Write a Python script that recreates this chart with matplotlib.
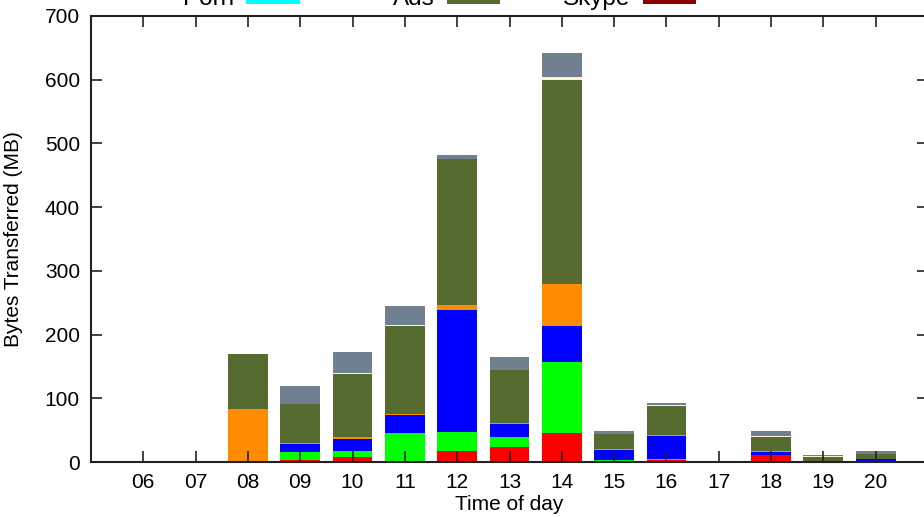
import numpy as np
import matplotlib.pyplot as plt
from matplotlib.patches import Patch

plt.rcParams['font.family'] = ['Liberation Sans', 'DejaVu Sans']

hours = ['06', '07', '08', '09', '10', '11', '12', '13', '14', '15', '16', '17', '18', '19', '20']

# traffic per hour (MB), one list per stacked layer, bottom to top
red    = [0, 0, 0,   3,    8,   0,    17,   23.5, 45.5, 0,    3,    0,   11,   0.3, 0]
green  = [0, 0, 0,   12.7, 9,   45.5, 30.5, 15.5, 111,  3,    1.7,  0,   0.5,  0.3, 1]
blue   = [0, 0, 0,   12.3, 19.6, 27.5, 191.5, 20, 57,   16.4, 36,   0,   4.5,  0.5, 3.2]
orange = [0, 0, 83,  2,    2,   2,    7,    2,    65.5, 0.5,  1.6,  0,   0.5,  0.5, 0.5]
olive  = [0, 0, 86,  60.5, 100, 139,  229,  83,   320,  23.6, 45.6, 0,   23.5, 5.5, 8]
cream  = [0, 0, 0,   0.5,  0.5, 1,    1,    1,    5,    0.5,  1.5,  0,   0.5,  2.5, 0.5]
gray   = [1.5, 1, 1, 28.5, 33.5, 30,  6,    20,   38,   4.7,  2.5,  1.6, 8.2,  1.5, 4.6]

layers = [red, green, blue, orange, olive, cream, gray]
colors = ['#ff0000', '#00ff00', '#0000ff', '#ff8c00', '#556b2f', '#fff0d8', '#708090']

key_labels = ['Porn', 'Ads', 'Skype']
key_colors = ['cyan', '#556b2f', '#8b0000']

fig = plt.figure(figsize=(9.24, 5.17), dpi=100)
ax = fig.add_axes([91 / 924, 55 / 517, 837 / 924, 446 / 517])

x = np.arange(len(hours))
bottom = np.zeros(len(hours))
for vals, c in zip(layers, colors):
    vals = np.array(vals, dtype=float)
    ax.bar(x, vals, width=0.76, bottom=bottom, color=c, edgecolor='none')
    bottom += vals

ax.set_xlim(-1, 15)
ax.set_ylim(0, 700)
ax.set_xticks(x)
ax.set_xticklabels(hours)
ax.set_yticks(np.arange(0, 701, 100))
ax.tick_params(direction='in', length=8, width=1.2, labelsize=15,
               top=True, right=True, colors='#222222', labelcolor='black')
ax.tick_params(axis='x', pad=8)
ax.tick_params(axis='y', pad=8)
for s in ax.spines.values():
    s.set_linewidth(1.5)
    s.set_color('#222222')

ax.set_xlabel('Time of day', fontsize=15, labelpad=2)
ax.set_ylabel('Bytes Transferred (MB)', fontsize=15, labelpad=16)

# key entries along the very top edge, label then swatch
for lab, c, left in zip(key_labels, key_colors, [183, 393, 563]):
    fig.legend(handles=[Patch(facecolor=c, label=lab)], loc='lower left',
               bbox_to_anchor=(left / 924, 1 - 10 / 517), frameon=False, markerfirst=False,
               fontsize=17.5, borderpad=0, borderaxespad=0,
               handlelength=2.2, handleheight=0.6, handletextpad=0.5)

fig.savefig('out.png', dpi=100)
